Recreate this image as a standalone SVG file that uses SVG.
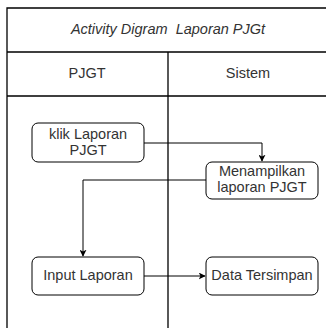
<svg xmlns="http://www.w3.org/2000/svg" width="326" height="328" viewBox="0 0 326 328">
  <style>
    .lane { fill: none; stroke: #000; stroke-width: 1.3; }
    .node rect { fill: #fff; stroke: #000; stroke-width: 1; }
    text { font-family: "Liberation Sans", Arial, sans-serif; font-size: 14.5px; fill: #333; text-anchor: middle; }
    .title { font-style: italic; white-space: pre; }
    .edge { fill: none; stroke: #000; stroke-width: 1; }
  </style>
  <defs>
    <marker id="arrow" viewBox="0 0 10 10" refX="9" refY="5" markerWidth="7" markerHeight="7" orient="auto" markerUnits="userSpaceOnUse">
      <path d="M0,0 L10,5 L0,10 L2.5,5 Z" fill="#000"/>
    </marker>
  </defs>
  <rect width="326" height="328" fill="#fff"/>

  <!-- swimlane frame -->
  <g id="pool">
    <path class="lane" d="M7,330 V8 H330 M7,52 H330 M7,96 H330 M168,52 V330"/>
    <text class="title" x="168" y="34" xml:space="preserve">Activity Digram  Laporan PJGt</text>
    <text x="87" y="78">PJGT</text>
    <text x="248" y="78">Sistem</text>
  </g>

  <!-- connectors -->
  <g id="edges">
    <path class="edge" d="M144,143 H262 V161" marker-end="url(#arrow)"/>
    <path class="edge" d="M206,180 H83 V256" marker-end="url(#arrow)"/>
    <path class="edge" d="M144,276 H205" marker-end="url(#arrow)"/>
  </g>

  <g id="klik" class="node">
    <rect x="32" y="123" width="112" height="39" rx="6"/>
    <text x="88" y="139">klik Laporan</text>
    <text x="88" y="155">PJGT</text>
  </g>
  <g id="menampilkan" class="node">
    <rect x="206" y="162" width="112" height="37" rx="6"/>
    <text x="262" y="176">Menampilkan</text>
    <text x="262" y="192">laporan PJGT</text>
  </g>
  <g id="input" class="node">
    <rect x="32" y="257" width="112" height="38" rx="6"/>
    <text x="88" y="280">Input Laporan</text>
  </g>
  <g id="data" class="node">
    <rect x="206" y="257" width="112" height="38" rx="6"/>
    <text x="262" y="280">Data Tersimpan</text>
  </g>
</svg>
